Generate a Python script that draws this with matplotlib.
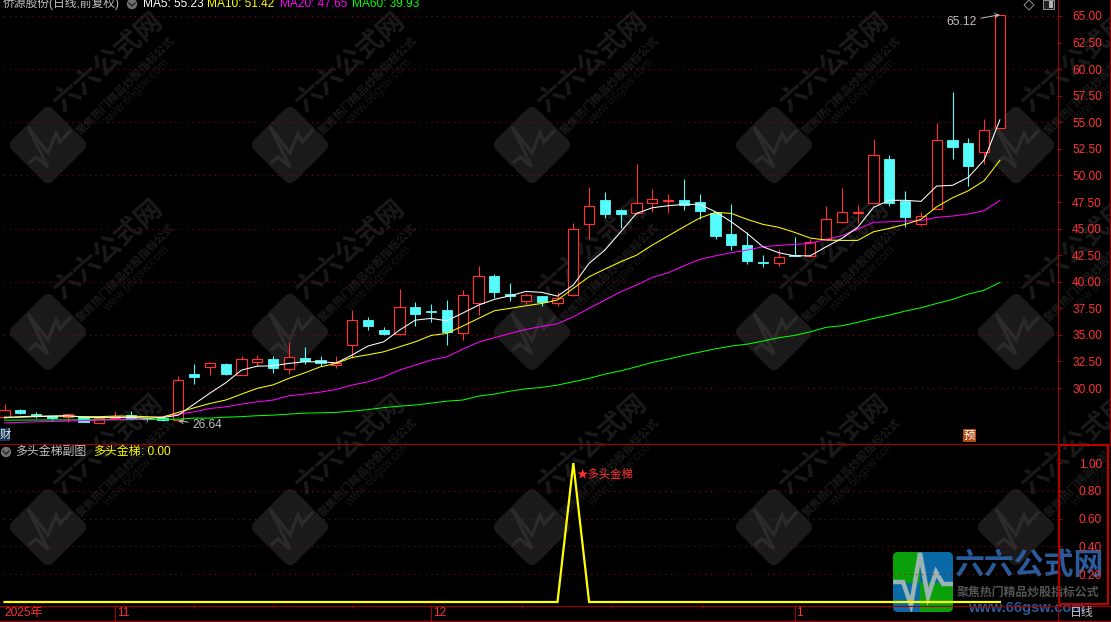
import matplotlib
matplotlib.use("Agg")
import matplotlib.pyplot as plt
import numpy as np
from matplotlib.patches import FancyBboxPatch, Rectangle, Circle, Polygon
from matplotlib.transforms import Affine2D

plt.rcParams['font.family'] = ['Liberation Sans', 'Noto Sans CJK SC', 'DejaVu Sans']

# ---------- data ----------
opens = [27.27,27.92,27.60,27.36,27.29,27.29,26.73,27.17,27.45,27.17,27.14,26.98,31.31,32.00,32.25,31.25,32.47,32.72,31.81,32.82,32.60,32.19,34.01,36.39,35.45,35.10,37.62,37.24,37.33,35.14,38.02,40.53,38.84,38.21,38.65,38.02,38.72,45.40,47.68,46.74,46.43,47.43,47.59,47.68,47.50,46.43,44.48,43.45,41.90,41.79,42.50,42.41,43.99,45.64,46.46,47.43,51.54,47.62,45.46,46.87,53.33,53.05,52.23,54.49]
closes = [27.92,27.64,27.45,27.20,27.55,26.82,27.17,27.39,27.10,27.05,26.98,30.72,31.03,32.32,31.31,32.70,32.70,31.88,32.88,32.51,32.37,32.37,36.36,35.83,35.08,37.59,36.96,37.15,35.26,38.72,40.50,39.03,38.65,38.77,38.09,38.43,44.93,47.09,46.37,46.37,47.37,47.75,47.68,47.19,46.65,44.30,43.45,41.94,41.80,42.29,42.41,43.70,45.87,46.53,46.53,51.89,47.43,46.08,46.15,53.30,52.67,50.88,54.24,65.05]
highs = [28.49,28.05,27.74,27.40,27.60,27.36,27.22,27.83,27.83,27.29,27.36,31.12,32.25,32.44,32.35,33.00,33.07,33.00,34.32,33.85,33.00,33.00,37.33,36.67,35.73,39.28,38.09,37.90,38.28,39.20,41.47,40.72,39.87,38.93,38.70,39.03,45.49,48.88,48.44,46.84,51.07,48.72,48.25,49.66,48.25,46.46,47.31,44.67,42.50,43.07,44.20,43.99,47.12,48.81,47.20,53.42,51.92,48.53,46.56,54.93,57.85,53.52,55.30,65.12]
lows = [27.17,27.55,27.20,26.98,26.82,26.80,26.70,26.98,26.98,26.92,26.92,26.92,30.37,31.22,31.22,31.22,32.06,31.41,31.31,32.25,32.06,31.88,32.79,35.45,35.03,34.98,35.83,36.20,34.04,34.51,36.86,38.46,38.18,37.93,37.71,37.71,38.65,44.04,45.99,45.05,46.37,46.56,46.46,46.74,45.90,44.00,42.98,41.66,41.41,41.50,42.41,42.37,43.99,45.55,45.52,47.40,47.12,45.14,45.24,46.87,51.54,49.00,51.07,54.49]
ma5 = [27.26,27.26,27.31,27.36,27.40,27.26,27.22,27.22,27.26,27.17,27.22,27.45,28.49,29.52,30.49,31.69,32.06,32.09,32.32,32.47,32.47,32.37,33.10,33.95,34.35,35.45,36.39,36.55,36.33,37.05,37.80,38.34,38.68,39.09,39.00,38.65,39.69,41.73,42.98,44.70,46.43,46.96,47.15,47.28,47.28,46.58,45.64,44.55,43.29,42.73,42.44,42.44,43.29,44.08,45.12,47.00,47.66,47.66,47.56,49.00,49.07,49.82,51.45,55.23]
ma10 = [27.20,27.31,27.36,27.36,27.36,27.31,27.31,27.36,27.36,27.31,27.26,27.71,28.14,28.55,28.87,29.43,29.97,30.30,30.91,31.43,32.00,32.32,32.88,33.13,33.41,33.88,34.35,34.95,35.14,35.83,36.55,37.27,37.50,37.74,37.96,38.28,39.38,40.47,41.19,41.88,42.50,43.45,44.30,45.17,45.99,46.53,46.43,45.87,45.40,45.12,44.65,44.11,43.92,43.89,43.89,44.70,45.02,45.40,45.87,47.05,47.90,48.56,49.50,51.42]
ma20 = [26.73,26.77,26.82,26.86,26.89,26.94,26.98,27.03,27.08,27.12,27.31,27.55,27.76,28.08,28.23,28.49,28.70,28.87,29.27,29.43,29.62,29.87,30.28,30.59,31.06,31.69,32.16,32.63,32.94,33.66,34.32,34.73,35.14,35.52,35.80,36.05,36.70,37.50,38.28,39.05,39.69,40.41,40.84,41.50,42.10,42.44,42.73,42.98,43.29,43.42,43.52,43.61,43.99,44.33,44.95,45.59,45.64,45.71,45.74,46.06,46.18,46.37,46.68,47.65]
ma60 = [26.98,26.98,26.99,27.00,27.00,27.01,27.02,27.02,27.03,27.04,27.05,27.08,27.17,27.17,27.26,27.31,27.40,27.45,27.55,27.64,27.67,27.71,27.83,27.97,28.16,28.30,28.40,28.58,28.77,28.87,29.24,29.43,29.71,29.93,30.06,30.28,30.59,30.91,31.31,31.62,32.00,32.41,32.72,33.07,33.38,33.69,33.95,34.13,34.42,34.73,34.95,35.29,35.71,35.86,36.18,36.55,36.86,37.24,37.55,37.96,38.34,38.84,39.20,39.93]
signal = [0.0]*64
signal[36] = 1.0
price_ticks = [30.0,32.5,35.0,37.5,40.0,42.5,45.0,47.5,50.0,52.5,55.0,57.5,60.0,62.5,65.0]
grid_prices = [30,35,40,45,50,55,60,65]
signal_ticks = [0.2,0.4,0.6,0.8,1.0]
month_pos = [7,27,50]
month_labels = ['11','12','1']
minor_pos = [12,17,22,32.75,38.45,44.2]
title = '侨源股份(日线,前复权)'
ma_labels = ['MA5: 55.23','MA10: 51.42','MA20: 47.65','MA60: 39.93']

# ---------- layout ----------
W,H = 1111,622
BG='#000000'; RED='#ff3232'; CYAN='#54fcfc'; DK='#a00000'; GRID='#a80000'; GREY='#c0c0c0'
PX=0.72
fig = plt.figure(figsize=(W/100,H/100),dpi=100,facecolor=BG)
def box(l,t,r,b,z):
    a=fig.add_axes([l/W,1-b/H,(r-l)/W,(b-t)/H],zorder=z)
    a.patch.set_alpha(0)
    return a
bg = box(0,0,W,H,0); bg.set_xlim(0,W); bg.set_ylim(H,0); bg.axis('off')
top = box(0,0,W,H,5); top.set_xlim(0,W); top.set_ylim(H,0); top.axis('off')
x0,dx = 4.5,15.8
xl = (-x0/dx,(1057-x0)/dx)
ax = box(0,0,1057,443,2)
ax.set_xlim(*xl); ax.set_ylim(65-(443-16)/10.63,65+16/10.63)
ax2 = box(0,443,1057,605,2)
ax2.set_xlim(*xl); ax2.set_ylim((602-605)/139,(602-443)/139)
ax3 = box(0,605,1057,621,2)
ax3.set_xlim(*xl); ax3.set_ylim(0,1)

# ---------- watermark ----------
WM='#1a1a1a'; WM2='#2b2b2b'
for cy in [145,332,527]:
    for cx in [48,290,532,774,1016]:
        tr = Affine2D().rotate_deg_around(cx,cy,45)+bg.transData
        bg.add_patch(FancyBboxPatch((cx-21,cy-21),42,42,boxstyle='round,pad=8,rounding_size=8',fc=WM,ec='none',transform=tr))
        pts=np.array([(-18,17),(-12,12),(0,22),(-20,-18),(0,8),(8,-12),(12,-3),(22,-14)])
        bg.plot(pts[:,0]+cx,pts[:,1]+cy,color=WM2,lw=2.4,solid_joinstyle='miter')
        bg.text(cx+61,cy-82,'六六公式网',color=WM,fontsize=19.5,fontweight='bold',rotation=41,ha='center',va='center',rotation_mode='anchor')
        bg.text(cx+77,cy-60,'聚焦热门精品炒股指标公式',color=WM,fontsize=8,fontweight='bold',rotation=45,ha='center',va='center',rotation_mode='anchor')
        bg.text(cx+89,cy-53,'www.66gsw.com',color='#161616',fontsize=8.5,rotation=45,ha='center',va='center',rotation_mode='anchor')

# ---------- logo ----------
LG='#0aa00a'; LB='#0a6aa8'
clip = FancyBboxPatch((896,555),54,54,boxstyle='round,pad=3,rounding_size=5',fc='none',ec='none',transform=bg.transData)
bg.add_patch(clip)
for (l,t,w,h,c) in [(893,552,27,31,LG),(920,552,33,31,LB),(893,583,27,29,LB),(920,583,33,29,LG)]:
    r=Rectangle((l,t),w,h,fc=c,ec='none',zorder=2); bg.add_patch(r); r.set_clip_path(clip)
pl=np.array([(893,582),(903,582),(911,605),(920,553),(928,597),(936,572),(943,584),(953,584)])
ln,=bg.plot(pl[:,0],pl[:,1],color='#9ab4b4',lw=3.2,zorder=3,solid_joinstyle='miter'); ln.set_clip_path(clip)
bg.text(1029,566,'六六公式网',color='#2a5a9a',fontsize=21.5,fontweight='bold',ha='center',va='center',zorder=3)
bg.text(1028,593,'聚焦热门精品炒股指标公式',color='#555555',fontsize=8.6,fontweight='bold',ha='center',va='center',zorder=3)
bg.text(1026,608,'www.66gsw.com',color='#2a5a9a',fontsize=10.5,fontweight='bold',ha='center',va='center',zorder=3)

# ---------- main panel ----------
idx=np.arange(len(opens))
O,C,Hi,Lo=map(np.array,(opens,closes,highs,lows))
for a,vals in ((ax,grid_prices),(ax2,signal_ticks[:4])):
    for v in vals:
        a.axhline(v,color=GRID,lw=PX,ls=(2,(1,4.7)),zorder=1)
up=C>=O
ax.vlines(idx[up],Lo[up],Hi[up],color=RED,lw=0.8,zorder=2)
ax.vlines(idx[~up],Lo[~up],Hi[~up],color=CYAN,lw=0.8,zorder=2)
ax.bar(idx[up],(C-O)[up],bottom=O[up],width=0.65,facecolor=BG,edgecolor=RED,linewidth=0.85,zorder=3)
ax.bar(idx[~up],(O-C)[~up],bottom=C[~up],width=0.65,facecolor=CYAN,edgecolor=CYAN,linewidth=0.6,zorder=3)
for s,c in ((ma60,'#00ff00'),(ma20,'#ff00ff'),(ma10,'#ffff00'),(ma5,'#ffffff')):
    ax.plot(idx,s,color=c,lw=0.75,zorder=4)
ax.annotate('65.12',xy=(63,highs[63]),xytext=(-23,-7),textcoords='offset pixels',color=GREY,fontsize=8.8,ha='right',va='center',
            arrowprops=dict(arrowstyle='->',color=GREY,lw=0.7,shrinkA=1,shrinkB=0,mutation_scale=7),zorder=6)
ax.annotate('26.64',xy=(11,lows[11]),xytext=(14,-4),textcoords='offset pixels',color=GREY,fontsize=8.6,ha='left',va='center',
            arrowprops=dict(arrowstyle='->',color=GREY,lw=0.7,shrinkA=1,shrinkB=0,mutation_scale=7),zorder=6)

# ---------- lower panel ----------
ax2.plot(idx,signal,color='#ffff00',lw=1.6,zorder=4,solid_joinstyle='miter')
ax2.annotate('★多头金梯',xy=(36,0.92),xytext=(3,0),textcoords='offset pixels',color=RED,fontsize=8.2,va='center',ha='left',zorder=5)

# ---------- axes ----------
for a in (ax,ax2,ax3):
    for k,s in a.spines.items():
        s.set_visible(False)
    a.set_xticks([])
for a,ticks,fmt in ((ax,price_ticks,'{:.2f}'),(ax2,signal_ticks,'{:.2f}')):
    a.yaxis.tick_right()
    a.set_yticks(ticks)
    a.set_yticklabels([fmt.format(t) for t in ticks],color=RED,fontsize=8.6,ha='right')
    a.tick_params(axis='y',colors=DK,length=3.8,width=PX,pad=28.5,labelcolor=RED)
ax3.set_yticks([])
ax3.set_xticks(month_pos); ax3.set_xticklabels([])
ax3.set_xticks(minor_pos,minor=True)
ax3.tick_params(axis='x',which='major',direction='in',length=11.5,width=PX,color=DK,top=True,bottom=False)
ax3.tick_params(axis='x',which='minor',direction='in',length=2.2,width=PX,color=DK,top=True,bottom=False)
for p,l in zip(month_pos,month_labels):
    ax3.annotate(l,xy=(p,0.5),xycoords=('data','axes fraction'),xytext=(2,0),textcoords='offset pixels',color=RED,fontsize=8.6,ha='left',va='center')
ax3.annotate('2025年',xy=(0,0.5),xycoords=('data','axes fraction'),xytext=(0,0),textcoords='offset pixels',color=RED,fontsize=8.6,ha='left',va='center')

# frame lines
top.plot([0,1057],[443.5,443.5],color=DK,lw=0.8)
top.plot([0,W],[605.5,605.5],color=DK,lw=0.8)
top.plot([0,W],[620.5,620.5],color=DK,lw=0.8)
top.plot([1057.5,1057.5],[0,622],color=DK,lw=0.8)
top.add_patch(Rectangle((1059,445),49,159,fc='none',ec='#c00000',lw=1.5))
top.plot([1109.5,1109.5],[0,445],color=DK,lw=0.8)

# ---------- header texts ----------
top.text(3,4,title,color=GREY,fontsize=8.5,ha='left',va='center')
for xp,t,c in zip([143,207,280,352],ma_labels,['#ffffff','#ffff00','#ff00ff','#00ff00']):
    top.text(xp,4,t,color=c,fontsize=8.6,ha='left',va='center')
top.text(15,452,'多头金梯副图',color=GREY,fontsize=8.6,ha='left',va='center')
top.text(93,452,'多头金梯',color='#ffff00',fontsize=8.6,ha='left',va='center')
top.text(141,452,': 0.00',color='#ffff00',fontsize=8.6,ha='left',va='center')
for (cx,cy) in [(132,4),(6,452)]:
    top.add_patch(Circle((cx,cy),5.2,fc='#707070',ec='none'))
    top.plot([cx-3,cx,cx+3],[cy-1,cy+2,cy-1],color='#222222',lw=1.0)
top.add_patch(Polygon([(1029,0),(1034,5),(1029,10),(1024,5)],fc='none',ec='#909090',lw=0.7))
top.add_patch(Rectangle((1043,0),11,9,fc='#202020',ec='#909090',lw=0.7))
top.add_patch(Rectangle((1049,1),4,7,fc='#b0b0b0',ec='none'))
top.add_patch(Rectangle((0,428),10,13,fc='#14385c',ec='none'))
top.text(5,434.5,'财',color='#e8e8e8',fontsize=8.2,ha='center',va='center')
top.add_patch(Rectangle((963,429),13,13,fc='#b04a10',ec='none'))
top.text(969.5,435.5,'预',color='#ffffff',fontsize=8.2,ha='center',va='center')
top.text(1082,613,'日线',color=GREY,fontsize=8.6,ha='center',va='center')

fig.savefig('out.png',dpi=100,facecolor=BG)
